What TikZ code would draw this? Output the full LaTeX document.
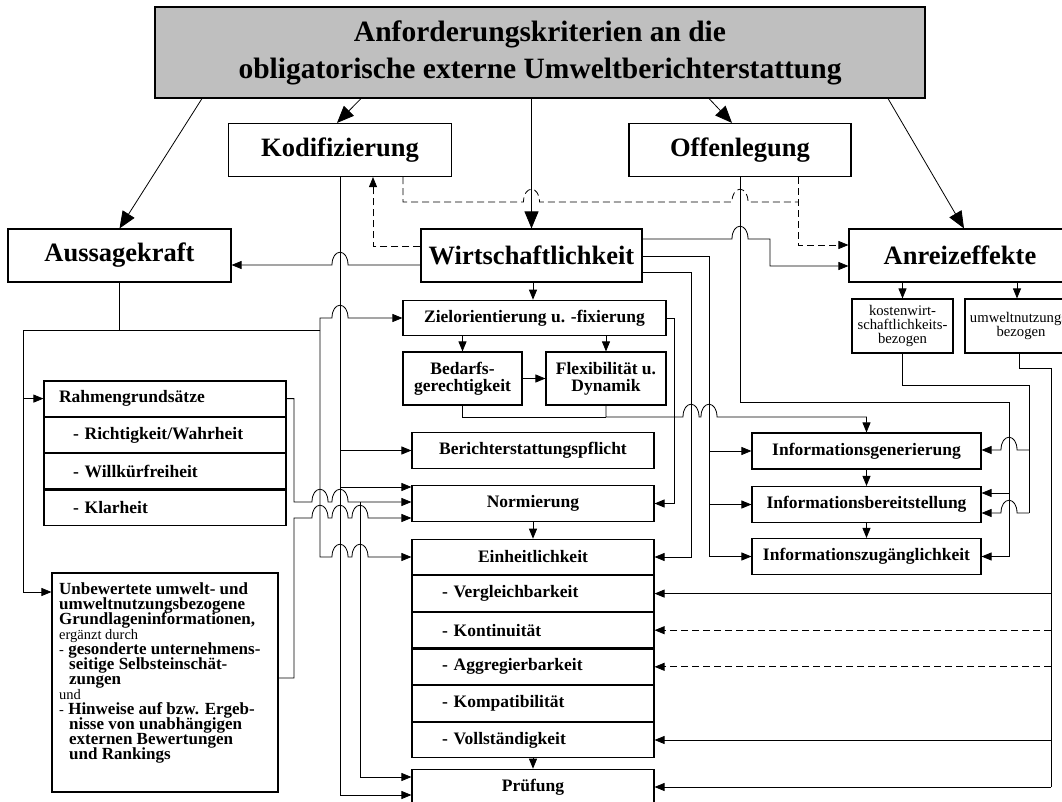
\documentclass[tikz,border=0pt]{standalone}
\usepackage{fontspec}
\setmainfont{Liberation Serif}
\usetikzlibrary{arrows.meta, positioning}

\setlength{\lineskiplimit}{-50pt}
\newcommand{\hop}[2]{-- ({#1-8},#2) .. controls ({#1-8},{#2-17}) and ({#1+8},{#2-17}) .. ({#1+8},#2)}
\newcommand{\regtext}[1]{{\fontsize{14.5}{15}\selectfont\mdseries #1}}

\tikzset{
  box/.style={draw, line width=1.1pt, fill=white, inner sep=0pt, align=center},
  titlebox/.style={box, fill=black!25, font=\fontsize{29.5}{37}\selectfont\bfseries},
  bigbox/.style={box, minimum width=222pt, minimum height=53pt, font=\fontsize{26.5}{30}\selectfont\bfseries},
  smallbox/.style={box, minimum width=242pt, minimum height=35.5pt, font=\fontsize{17.5}{17}\selectfont\bfseries},
  rowbox/.style={smallbox, text width=212pt, inner xsep=7pt, align=left, minimum height=35.25pt},
  einhrow/.style={smallbox, text width=228pt, inner xsep=7pt, align=left},
  notebox/.style={box, minimum height=54pt, font=\fontsize{14.7}{14}\selectfont},
  wire/.style={line width=0.8pt},
  dashline/.style={wire, dash pattern=on 7pt off 4pt},
  bigarrow/.style={wire, -{Triangle[length=17pt,width=14pt]}},
}

\begin{document}
\begin{tikzpicture}[x=1pt, y=-1pt, >={Triangle[length=10pt,width=8pt]}]
  \useasboundingbox (0,0) rectangle (1062,802);

  % Nodes
  \node[titlebox, minimum width=770pt, minimum height=91pt] (title) at (540,52.5)
    {Anforderungskriterien an die\\obligatorische externe Umweltberichterstattung};
  \node[bigbox, minimum width=223pt] (kod) at (340,150) {Kodifizierung};
  \node[bigbox] (off) at (740,150) {Offenlegung};
  \node[bigbox, minimum width=223pt] (aus) at (119.5,255.5) {Aussagekraft};
  \node[bigbox, minimum width=221pt] (wirt) at (531.5,255.5) {Wirtschaftlichkeit};
  \node[bigbox] (anr) at (960,255.5) {Anreizeffekte};

  \node[smallbox, minimum width=263pt] (ziel) at (534.5,318) {Zielorientierung u. -fixierung};
  \node[smallbox, minimum width=119pt, minimum height=53pt] (bed) at (462.5,378.5) {Bedarfs-\\gerechtigkeit};
  \node[smallbox, minimum width=120pt, minimum height=53pt] (flex) at (606,378.5) {Flexibilität u.\\Dynamik};
  \node[smallbox] (ber) at (533,450.5) {Berichterstattungspflicht};
  \node[smallbox] (norm) at (533,503.5) {Normierung};
  \node[smallbox] (einh) at (533,557) {Einheitlichkeit};
  \node[einhrow, below=0pt of einh] (vergl) {\hspace*{23pt}- Vergleichbarkeit};
  \node[einhrow, below=0pt of vergl] (kont) {\hspace*{23pt}- Kontinuität};
  \node[einhrow, below=0pt of kont] (aggr) {\hspace*{23pt}- Aggregierbarkeit};
  \node[einhrow, below=0pt of aggr] (komp) {\hspace*{23pt}- Kompatibilität};
  \node[einhrow, below=0pt of komp] (vollst) {\hspace*{23pt}- Vollständigkeit};
  \node[smallbox] (pruef) at (533,787) {Prüfung};

  \node[smallbox, minimum width=229pt, minimum height=36pt] (igen) at (866.5,451) {Informationsgenerierung};
  \node[smallbox, minimum width=229pt, minimum height=36pt] (iber) at (866.5,504.5) {Informationsbereitstellung};
  \node[smallbox, minimum width=229pt, minimum height=36pt] (izug) at (866.5,556.5) {Informationszugänglichkeit};

  \node[notebox, minimum width=101pt] (kost) at (902.5,326) {kostenwirt-\\schaftlichkeits-\\bezogen};
  \node[notebox, minimum width=112pt] (umw) at (1021,326) {umweltnutzungs-\\bezogen};

  \node[rowbox] (rahmen) at (165,398.6) {Rahmengrundsätze};
  \node[rowbox, below=0pt of rahmen] (richt) {\hspace*{14pt}- Richtigkeit/Wahrheit};
  \node[rowbox, below=0pt of richt] (willk) {\hspace*{14pt}- Willkürfreiheit};
  \node[rowbox, below=0pt of willk] (klar) {\hspace*{14pt}- Klarheit};

  \node[box, minimum width=226pt, minimum height=219pt] (unb) at (165,682.5) {};
  \node[anchor=north west, inner sep=0pt, align=left,
        font=\fontsize{17}{15}\selectfont\bfseries] (unbtext) at (59,582)
    {Unbewertete umwelt- und\\
     umweltnutzungsbezogene\\
     Grundlageninformationen,\\
     \regtext{ergänzt durch}\\
     \regtext{-} gesonderte unternehmens-\\
     \hspace*{10pt}seitige Selbsteinschät-\\
     \hspace*{10pt}zungen\\
     \regtext{und}\\
     \regtext{-} Hinweise auf bzw. Ergeb-\\
     \hspace*{10pt}nisse von unabhängigen\\
     \hspace*{10pt}externen Bewertungen\\
     \hspace*{10pt}und Rankings};

  % Arrows from the title
  \draw[bigarrow] (title.south -| 202,0) -- (aus.north);
  \draw[bigarrow] (title.south -| 361,0) -- (kod.north -| 337,0);
  \draw[bigarrow] (title.south -| 531.5,0) -- (wirt.north);
  \draw[bigarrow] (title.south -| 709,0) -- (off.north -| 732,0);
  \draw[bigarrow] (title.south -| 888,0) -- (anr.north -| 964,0);

  % Dashed links
  \draw[dashline] (kod.south -| 403,0) -- (403,202) \hop{531.5}{202} \hop{740}{202} -- (798,202);
  \draw[dashline, ->] (off.south -| 798,0) -- (798,245) -- (anr.west |- 0,245);
  \draw[dashline, ->] (wirt.west |- 0,246) -- (373,246) -- (kod.south -| 373,0);

  % Kodifizierung
  \draw[wire] (kod.south) -- (340,795);
  \draw[wire, ->] (340,450.5) -- (ber.west);
  \draw[wire, ->] (340,487) -- (norm.west |- 0,487);
  \draw[wire, ->] (340,795) -- (pruef.west |- 0,795);

  % Aussagekraft
  \draw[wire] (aus.south) -- (aus.south |- 0,330);
  \draw[wire] (23,330) -- (320,330);
  \draw[wire, ->] (23,330) -- (23,592) -- (unb.west |- 0,592);
  \draw[wire, ->] (23,398.6) -- (rahmen.west);
  \draw[wire, ->] (320,330) -- (320,318) \hop{340}{318} -- (ziel.west);
  \draw[wire, ->] (320,330) -- (320,557) \hop{340}{557} \hop{360}{557} -- (einh.west);
  \draw[wire, ->] (rahmen.east) -- (294,398.6) -- (294,502) \hop{320}{502} \hop{340}{502} -- (norm.west |- 0,502);
  \draw[wire, ->] (360,502) -- (360,777) -- (pruef.west |- 0,777);
  \draw[wire, ->] (unb.east |- 0,678) -- (294,678) -- (294,518) \hop{320}{518} \hop{340}{518} \hop{360}{518} -- (norm.west |- 0,518);

  % Wirtschaftlichkeit
  \draw[wire, <-] (aus.east |- 0,265) \hop{340}{265} -- (wirt.west |- 0,265);
  \draw[wire, ->] (wirt.south -| 533,0) -- (ziel.north -| 533,0);
  \draw[wire, ->] (wirt.east |- 0,239) \hop{740}{239} -- (770,239) -- (770,266) -- (anr.west |- 0,266);
  \draw[wire] (wirt.east |- 0,256) -- (709,256) -- (709,556.5);
  \draw[wire, ->] (709,451) -- (igen.west);
  \draw[wire, ->] (709,504.5) -- (iber.west);
  \draw[wire, ->] (709,556.5) -- (izug.west);
  \draw[wire, ->] (wirt.east |- 0,272) -- (691,272) -- (691,557) -- (einh.east);

  % Zielorientierung
  \draw[wire, ->] (ziel.south -| bed.north) -- (bed.north);
  \draw[wire, ->] (ziel.south -| flex.north) -- (flex.north);
  \draw[wire, ->] (bed.east) -- (flex.west);
  \draw[wire, ->] (ziel.east) -- (674,318) -- (674,503.5) -- (norm.east);
  \draw[wire] (bed.south) -- (bed.south |- 0,417) -- (flex.south |- 0,417);
  \draw[wire, ->] (flex.south) -- (606,417) \hop{691}{417} \hop{709}{417} -- (866.5,417) -- (igen.north);

  % Chains
  \draw[wire, ->] (norm.south) -- (einh.north);
  \draw[wire, ->] (vollst.south) -- (pruef.north);
  \draw[wire, ->] (igen.south) -- (iber.north);
  \draw[wire, ->] (iber.south) -- (izug.north);

  % Offenlegung
  \draw[wire] (off.south) -- (740,402) -- (1009,402) -- (1009,556.5);
  \draw[wire, ->] (1009,493) -- (iber.east |- 0,493);
  \draw[wire, ->] (1009,556.5) -- (izug.east);

  % Anreizeffekte
  \draw[wire, ->] (anr.south -| kost.north) -- (kost.north);
  \draw[wire, ->] (anr.south -| 1017,0) -- (umw.north -| 1017,0);
  \draw[wire] (kost.south) -- (902.5,385) -- (1029,385) -- (1029,513);
  \draw[wire, <-] (igen.east |- 0,450) \hop{1009}{450} -- (1029,450);
  \draw[wire, <-] (iber.east |- 0,513) \hop{1009}{513} -- (1029,513);
  \draw[wire] (umw.south -| 1019,0) -- (1019,368) -- (1051,368) -- (1051,787);
  \draw[wire, ->] (vergl.east -| 1051,0) -- (vergl.east);
  \draw[dashline, ->] (kont.east -| 1051,0) -- (kont.east);
  \draw[dashline, ->] (aggr.east -| 1051,0) -- (aggr.east);
  \draw[wire, ->] (vollst.east -| 1051,0) -- (vollst.east);
  \draw[wire, ->] (pruef.east -| 1051,0) -- (pruef.east);
\end{tikzpicture}
\end{document}
